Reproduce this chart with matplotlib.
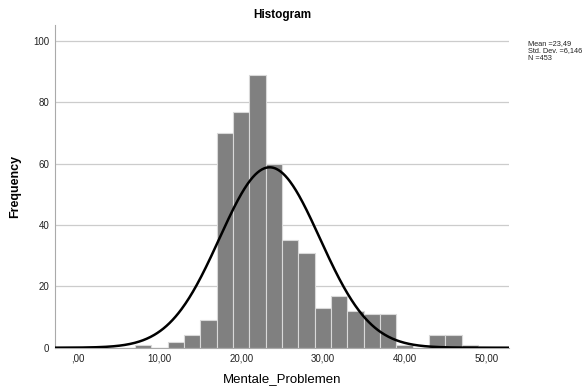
import numpy as np
import matplotlib
matplotlib.use("Agg")
import matplotlib.pyplot as plt

bin_edges = list(range(7, 51, 2))  # 7,9,...,49
counts = [1, 0, 2, 4, 9, 70, 77, 89, 60, 35, 31, 13, 17, 12, 11, 11, 1, 0, 4, 4, 1]
mean, sd, n = 23.49, 6.146, 453
xticks = [0, 10, 20, 30, 40, 50]
xticklabels = [",00", "10,00", "20,00", "30,00", "40,00", "50,00"]
yticks = [0, 20, 40, 60, 80, 100]

plt.rcParams['font.family'] = ['Liberation Sans', 'DejaVu Sans']
fig = plt.figure(figsize=(5.85, 3.9), dpi=100)
ax = fig.add_axes([55/585, 1-347.7/390, (509-55)/585, (347.7-25)/390])

lefts = np.array(bin_edges[:-1])
widths = np.diff(bin_edges)
ax.bar(lefts, counts, width=widths, align='edge', color='#808080',
       edgecolor='#d9d9d9', linewidth=0.8, zorder=2)

xs = np.linspace(-2.8, 52.8, 600)
ys = n * 2 / (sd * np.sqrt(2 * np.pi)) * np.exp(-0.5 * ((xs - mean) / sd) ** 2)
ax.plot(xs, ys, color='black', linewidth=1.8, zorder=3)

ax.set_xlim(-2.8, 52.8)
ax.set_ylim(0, 105.2)
ax.set_xticks(xticks)
ax.set_xticklabels(xticklabels)
ax.set_yticks(yticks)
ax.tick_params(length=0, labelsize=7, colors='#222222', pad=4)
ax.yaxis.grid(True, color='#cccccc', linewidth=0.9, zorder=0)
ax.set_axisbelow(True)
for s in ['top', 'right']:
    ax.spines[s].set_visible(False)
ax.spines['left'].set_color('#aaaaaa')
ax.spines['bottom'].set_color('#aaaaaa')

ax.set_title("Histogram", fontsize=8.5, fontweight='bold', pad=5)
ax.set_ylabel("Frequency", fontsize=9, fontweight='bold', labelpad=9)
ax.set_xlabel("Mentale_Problemen", fontsize=9.5, labelpad=7)

fig.text(528/585, 1-40/390, "Mean =23,49\nStd. Dev. =6,146\nN =453",
         fontsize=5.3, va='top', ha='left', linespacing=1.1, color='#222222')

fig.savefig("out.png", dpi=100)
